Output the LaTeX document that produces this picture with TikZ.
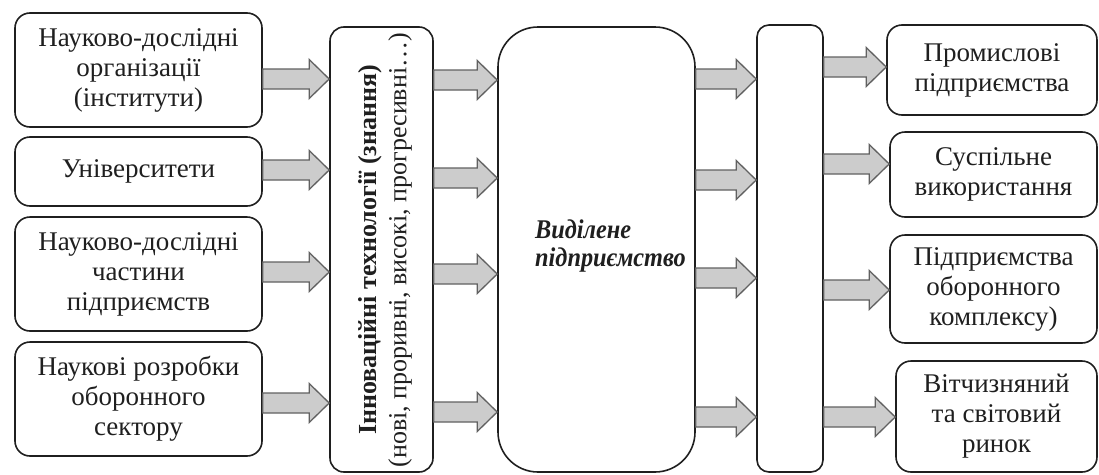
\documentclass[tikz,border=0pt]{standalone}
\usepackage{fontspec}
\setmainfont{Liberation Serif}
\usetikzlibrary{calc}
\definecolor[named]{ArrowGray}{gray}{0.80}
\definecolor[named]{ArrowEdge}{gray}{0.38}
\definecolor[named]{InkBlack}{gray}{0.12}
\newcommand{\boxfont}{\fontsize{27}{30}\selectfont}
\newcommand{\sidefont}{\fontsize{26}{30}\selectfont}
\newcommand{\firmfont}{\fontsize{27}{28}\selectfont\bfseries\itshape}
\tikzset{box/.style={draw=InkBlack,line width=1.6pt,rounded corners=15pt,
  align=center,inner sep=0pt,text=InkBlack,font=\boxfont}}
\tikzset{blockarrow/.style={fill=ArrowGray,draw=ArrowEdge,line width=1.3pt}}
\newcommand{\fatarrow}[2]{%
  \draw[blockarrow] let \p1=#1, \p2=#2 in
    (\x1,\y1+10pt) -- (\x2-20pt,\y1+10pt) -- (\x2-20pt,\y1+19.5pt) --
    (\x2,\y1) -- (\x2-20pt,\y1-19.5pt) -- (\x2-20pt,\y1-10pt) --
    (\x1,\y1-10pt) -- cycle;
}

\begin{document}
\begin{tikzpicture}[x=1pt,y=-1pt]
      \path[use as bounding box] (0,0) rectangle (1099,474);

      % Sources {{{

      \node[box,minimum width=247pt,minimum height=114pt] (inst) at (138.5,70)
        {Науково-дослідні\\організації\\(інститути)};
      \node[box,minimum width=247pt,minimum height=69pt] (univ) at (138.5,171.5)
        {Університети};
      \node[box,minimum width=247pt,minimum height=114pt] (labs) at (138.5,274)
        {Науково-дослідні\\частини\\підприємств};
      \node[box,minimum width=247pt,minimum height=114pt] (defrd) at (138.5,399)
        {Наукові розробки\\оборонного\\сектору};

      % }}}

      % Middle {{{

      \node[box,rounded corners=14pt,minimum width=103pt,minimum height=445pt]
        (tech) at (381.5,249.5) {};
      \node[rotate=90,align=center,font=\sidefont,text=InkBlack,inner sep=0pt]
        (techtxt) at (385,250)
        {\textbf{Інноваційні технології (знання)}\\(нові, проривні, високі, прогресивні\dots)};

      \node[box,rounded corners=40pt,minimum width=197pt,minimum height=445pt]
        (firm) at (596.5,249.5) {};
      \node[anchor=west,align=left,inner sep=0pt,text=InkBlack,font=\firmfont,
        xscale=0.9,transform shape] (firmtxt) at (535,246) {Виділене\\підприємство};

      \node[box,rounded corners=12pt,minimum width=66pt,minimum height=447pt]
        (dist) at (790,248.5) {};

      % }}}

      % Targets {{{

      \node[box,minimum width=210pt,minimum height=90pt] (ind) at (992,70)
        {Промислові\\підприємства};
      \node[box,minimum width=207pt,minimum height=85pt] (pub) at (993.5,174.5)
        {Суспільне\\використання};
      \node[box,minimum width=207pt,minimum height=108pt] (mil) at (993.5,289)
        {Підприємства\\оборонного\\комплексу)};
      \node[box,minimum width=201pt,minimum height=111pt] (mkt) at (996.5,416.5)
        {Вітчизняний\\та світовий\\ринок};

      % }}}

      % Arrows {{{

      \fatarrow{(inst.east |- 0,79)}{(tech.west |- 0,79)}
      \fatarrow{(univ.east |- 0,170)}{(tech.west |- 0,170)}
      \fatarrow{(labs.east |- 0,272)}{(tech.west |- 0,272)}
      \fatarrow{(defrd.east |- 0,403)}{(tech.west |- 0,403)}

      \fatarrow{(tech.east |- 0,80)}{(firm.west |- 0,80)}
      \fatarrow{(tech.east |- 0,178)}{(firm.west |- 0,178)}
      \fatarrow{(tech.east |- 0,274)}{(firm.west |- 0,274)}
      \fatarrow{(tech.east |- 0,412)}{(firm.west |- 0,412)}

      \fatarrow{(firm.east |- 0,79)}{(dist.west |- 0,79)}
      \fatarrow{(firm.east |- 0,180)}{(dist.west |- 0,180)}
      \fatarrow{(firm.east |- 0,278)}{(dist.west |- 0,278)}
      \fatarrow{(firm.east |- 0,417)}{(dist.west |- 0,417)}

      \fatarrow{(dist.east |- 0,67)}{(ind.west |- 0,67)}
      \fatarrow{(dist.east |- 0,164)}{(pub.west |- 0,164)}
      \fatarrow{(dist.east |- 0,290)}{(mil.west |- 0,290)}
      \fatarrow{(dist.east |- 0,417)}{(mkt.west |- 0,417)}

      % }}}

\end{tikzpicture}
\end{document}
